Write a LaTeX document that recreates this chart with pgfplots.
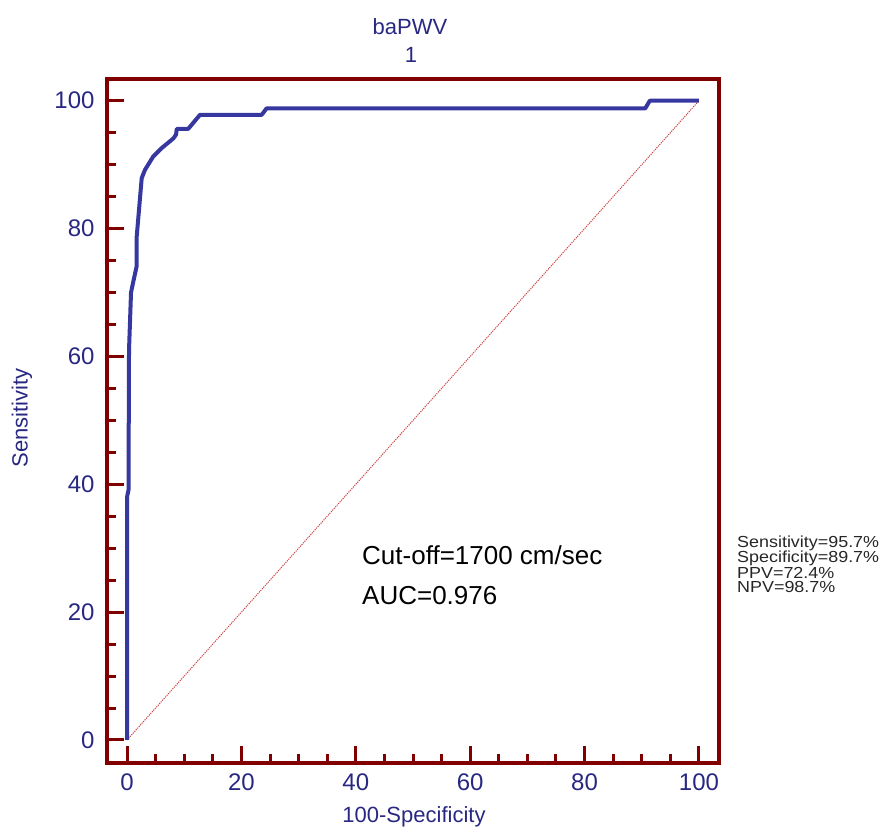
\documentclass[border=0pt]{standalone}
\usepackage{pgfplots}
\pgfplotsset{compat=1.18}
\usepackage{fontspec}
\setmainfont{Liberation Sans}
\definecolor{frame}{RGB}{128,0,0}
\definecolor{curve}{RGB}{55,55,160}
\definecolor{lab}{RGB}{40,40,130}
\definecolor{diag}{RGB}{205,70,70}
\begin{document}
\begin{tikzpicture}
\path[use as bounding box] (-107pt,-67pt) rectangle (777pt,763pt);
\begin{axis}[
 at={(0pt,0pt)}, anchor=south west,
 width=612pt, height=684pt, scale only axis,
 xmin=-3.5, xmax=103.5, ymin=-3.6, ymax=103.4,
 axis line style={line width=4pt, color=frame},
 xtick={0,20,...,100}, ytick={0,20,...,100},
 minor tick num=3,
 xtick pos=bottom, ytick pos=left,
 tick align=inside,
 major tick length=17pt, minor tick length=9pt,
 tick style={line width=3pt, color=frame},
 ticklabel style={font=\fontsize{24}{24}\selectfont, text=lab},
 xticklabel style={yshift=-7pt},
 yticklabel style={xshift=-9pt},
 /pgf/number format/assume math mode=true,
 clip=false,
]
\addplot[diag, line width=1pt, dash pattern=on 1.2pt off 1pt] coordinates {(0,0) (100,100)};
\addplot[curve, line width=4pt, line join=round] coordinates {
(0,0) (0,38.0) (0.26,39.1) (0.35,61) (0.7,70) (1.05,71.5) (1.66,74)
(1.7,78.8) (2.57,87.9) (3.15,89.2) (4.6,91.3) (6.07,92.6) (8.1,94.1)
(8.57,94.7) (8.7,95.6) (10.7,95.6) (12.76,97.8) (23.55,97.8) (24.4,98.8)
(90.6,98.8) (91.4,100) (100,100)
};
\end{axis}
\node[text=lab, font=\fontsize{22}{22}\selectfont] at (303pt,736pt) {baPWV};
\node[text=lab, font=\fontsize{22}{22}\selectfont] at (304pt,708pt) {1};
\node[rotate=90, text=lab, font=\fontsize{22}{22}\selectfont] at (-85pt,345pt) {Sensitivity};
\node[text=lab, font=\fontsize{22}{22}\selectfont] at (307pt,-54pt) {100-Specificity};
\node[anchor=west, inner sep=0pt, font=\fontsize{26}{26}\selectfont] at (255pt,208pt) {Cut-off=1700 cm/sec};
\node[anchor=west, inner sep=0pt, font=\fontsize{26}{26}\selectfont] at (255pt,167pt) {AUC=0.976};
\begin{scope}[every node/.style={anchor=base west, inner sep=0pt, text=black!85, font=\fontsize{16}{16}\selectfont}]
\node at (630pt,215pt) {\scalebox{1.12}[1]{Sensitivity=95.7\%}};
\node at (630pt,200pt) {\scalebox{1.12}[1]{Specificity=89.7\%}};
\node at (630pt,184.5pt) {\scalebox{1.12}[1]{PPV=72.4\%}};
\node at (630pt,170pt) {\scalebox{1.12}[1]{NPV=98.7\%}};
\end{scope}
\end{tikzpicture}
\end{document}
